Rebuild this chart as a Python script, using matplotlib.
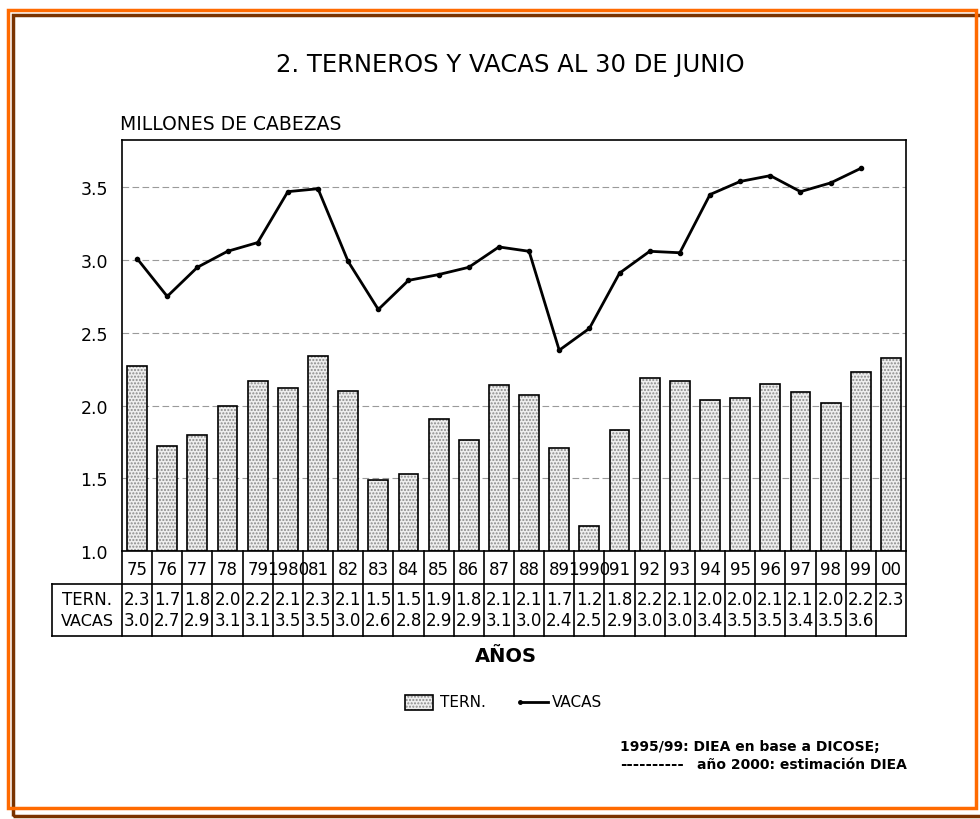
import numpy as np
import matplotlib
matplotlib.use('Agg')
import matplotlib.pyplot as plt
from matplotlib.patches import Rectangle

# Data (millions of head at 30 June)
years = ['75', '76', '77', '78', '79', '1980', '81', '82', '83', '84', '85', '86', '87',
         '88', '89', '1990', '91', '92', '93', '94', '95', '96', '97', '98', '99', '00']
terneros = [2.27, 1.72, 1.80, 2.00, 2.17, 2.12, 2.34, 2.10, 1.49, 1.53, 1.91, 1.76, 2.14,
            2.07, 1.71, 1.17, 1.83, 2.19, 2.17, 2.04, 2.05, 2.15, 2.09, 2.02, 2.23, 2.33]
vacas = [3.01, 2.75, 2.95, 3.06, 3.12, 3.47, 3.49, 2.99, 2.66, 2.86, 2.90, 2.95, 3.09,
         3.06, 2.38, 2.53, 2.91, 3.06, 3.05, 3.45, 3.54, 3.58, 3.47, 3.53, 3.63]
tern_labels = ['2.3', '1.7', '1.8', '2.0', '2.2', '2.1', '2.3', '2.1', '1.5', '1.5', '1.9', '1.8', '2.1',
               '2.1', '1.7', '1.2', '1.8', '2.2', '2.1', '2.0', '2.0', '2.1', '2.1', '2.0', '2.2', '2.3']
vacas_labels = ['3.0', '2.7', '2.9', '3.1', '3.1', '3.5', '3.5', '3.0', '2.6', '2.8', '2.9', '2.9', '3.1',
                '3.0', '2.4', '2.5', '2.9', '3.0', '3.0', '3.4', '3.5', '3.5', '3.4', '3.5', '3.6', '']
yticks = [1.0, 1.5, 2.0, 2.5, 3.0, 3.5]

W, H = 980, 820
plt.rcParams['font.family'] = ['DejaVu Sans']
fig = plt.figure(figsize=(W / 100, H / 100), dpi=100)


def fx(px):
    return px / W


def fy(py):
    return 1 - py / H


# Frame around the page
fig.patches.append(Rectangle((fx(13), fy(817)), fx(995 - 13), (817 - 16) / H,
                             transform=fig.transFigure, fill=False,
                             edgecolor='#7a3300', linewidth=2.5, clip_on=False))
fig.patches.append(Rectangle((fx(8), fy(809)), fx(976 - 8), (809 - 11) / H,
                             transform=fig.transFigure, fill=False,
                             edgecolor='#ff6a00', linewidth=2.5, clip_on=False))

x = np.arange(len(years))

# Main chart
ax = fig.add_axes([fx(122), fy(552), fx(906 - 122), (552 - 141) / H])
ax.set_xlim(-0.5, len(years) - 0.5)
ax.set_ylim(1.0, 3.825)
for y in yticks[1:]:
    ax.axhline(y, color='#9a9a9a', linestyle=(0, (6, 3)), linewidth=0.8, zorder=0)
ax.bar(x, np.array(terneros) - 1.0, bottom=1.0, width=0.66, facecolor='#eeeeee',
       edgecolor='#8a8a8a', hatch='.....', linewidth=0, zorder=2)
ax.bar(x, np.array(terneros) - 1.0, bottom=1.0, width=0.66, facecolor='none',
       edgecolor='black', linewidth=1.2, zorder=3)
ax.plot(x[:len(vacas)], vacas, color='black', linewidth=2, marker='o', markersize=3, zorder=4)
ax.set_xticks([])
ax.set_yticks(yticks)
ax.set_yticklabels([f'{v:.1f}' for v in yticks], fontsize=12.5)
ax.tick_params(axis='y', length=0, pad=10)
for s in ax.spines.values():
    s.set_linewidth(1.2)

# Table under the chart
tab = fig.add_axes([fx(122), fy(637), fx(906 - 122), 85 / H])
tab.set_xlim(-0.5, len(years) - 0.5)
tab.set_ylim(85, 0)
tab.axis('off')
lw = 1.2
lab_left = -0.5 - (122 - 52) / (784 / len(years))
for i in range(len(years) + 1):
    tab.plot([i - 0.5, i - 0.5], [0, 85], color='black', linewidth=lw, clip_on=False)
tab.plot([lab_left, len(years) - 0.5], [33, 33], color='black', linewidth=lw, clip_on=False)
tab.plot([lab_left, len(years) - 0.5], [85, 85], color='black', linewidth=lw, clip_on=False)
tab.plot([lab_left, lab_left], [33, 85], color='black', linewidth=lw, clip_on=False)
for i, yr in enumerate(years):
    tab.text(i, 18, yr, ha='center', va='center', fontsize=12)
    tab.text(i, 48, tern_labels[i], ha='center', va='center', fontsize=12)
    tab.text(i, 69, vacas_labels[i], ha='center', va='center', fontsize=12)
lab_mid = (lab_left - 0.5) / 2
tab.text(lab_mid, 48, 'TERN.', ha='center', va='center', fontsize=12)
tab.text(lab_mid, 69, 'VACAS', ha='center', va='center', fontsize=11.5)

# Titles
fig.text(fx(510), fy(65), '2. TERNEROS Y VACAS AL 30 DE JUNIO', ha='center', va='center',
         fontsize=17.5)
fig.text(fx(120), fy(125), 'MILLONES DE CABEZAS', ha='left', va='center', fontsize=13.5)
fig.text(fx(506), fy(657), 'AÑOS', ha='center', va='center', fontsize=14, fontweight='bold')

# Legend
fig.patches.append(Rectangle((fx(405), fy(711)), fx(28), 15 / H, transform=fig.transFigure,
                             facecolor='#eeeeee', edgecolor='#8a8a8a', hatch='.....',
                             linewidth=0))
fig.patches.append(Rectangle((fx(405), fy(711)), fx(28), 15 / H, transform=fig.transFigure,
                             facecolor='none', edgecolor='black', linewidth=1.2))
fig.text(fx(440), fy(703), 'TERN.', ha='left', va='center', fontsize=11)
fig.lines.append(plt.Line2D([fx(520), fx(548)], [fy(703), fy(703)], transform=fig.transFigure,
                            color='black', linewidth=2, marker='o', markersize=2.5,
                            markevery=[0]))
fig.text(fx(552), fy(703), 'VACAS', ha='left', va='center', fontsize=11)

# Source notes
fig.text(fx(620), fy(747), '1995/99: DIEA en base a DICOSE;', ha='left', va='center',
         fontsize=10, fontweight='bold')
fig.text(fx(620), fy(765), '----------', ha='left', va='center',
         fontsize=11, fontweight='bold')
fig.text(fx(697), fy(765), 'año 2000: estimación DIEA', ha='left', va='center',
         fontsize=10, fontweight='bold')

fig.savefig('out.png', dpi=100)
